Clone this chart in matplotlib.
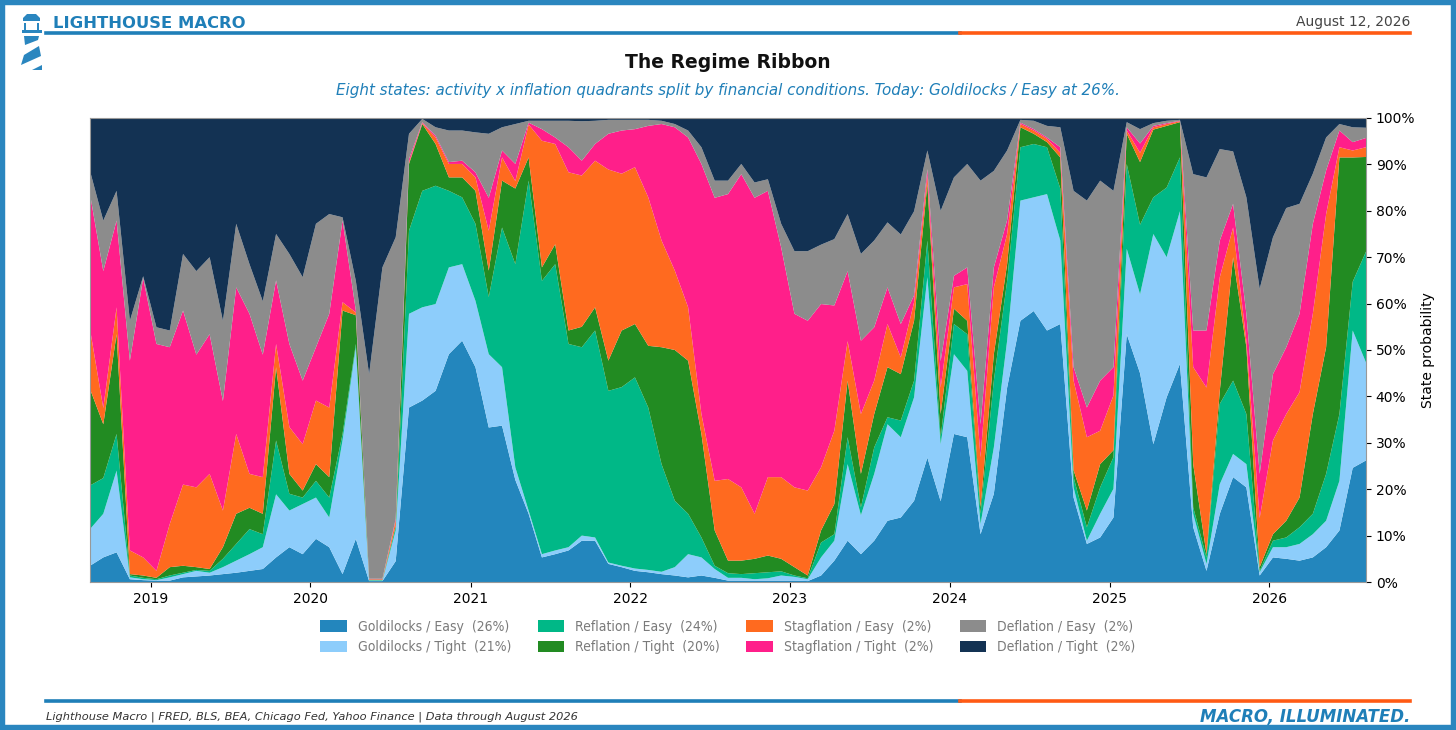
#%% libs
import matplotlib
matplotlib.use('Agg')
import matplotlib.pyplot as plt
import matplotlib.dates as mdates
from matplotlib.lines import Line2D
from matplotlib.patches import Polygon, Rectangle
from matplotlib.ticker import PercentFormatter
import numpy as np
import pandas as pd

#%% data: monthly state probabilities (%), Aug 2018 -> Aug 2026
dates = pd.date_range('2018-08-15', '2026-08-10', periods=97)

goldilocks_easy = [3.5, 5.3, 6.4, 0.6, 0.4, 0.3, 0.3, 1.0, 1.2, 1.4, 1.7, 2.0, 2.4, 2.8, 5.3, 7.5,
                   6.0, 9.3, 7.5, 1.7, 9.3, 0.2, 0.2, 4.5, 37.6, 39.1, 41.2, 49.1, 52.0, 46.3, 33.3, 33.7,
                   22.0, 14.7, 5.3, 6.0, 6.8, 8.9, 8.9, 3.9, 3.2, 2.4, 2.1, 1.7, 1.4, 1.0, 1.4, 0.9,
                   0.3, 0.3, 0.3, 0.3, 0.3, 0.3, 0.2, 1.4, 4.6, 8.9, 6.0, 8.9, 13.2, 13.9, 17.5, 26.8,
                   17.4, 31.9, 31.2, 10.3, 19.0, 41.9, 56.3, 58.4, 54.2, 55.6, 18.2, 8.2, 9.6, 13.9, 53.4, 45.0,
                   29.7, 39.8, 47.0, 11.8, 2.4, 14.7, 22.6, 20.4, 1.4, 5.3, 5.0, 4.6, 5.3, 7.5, 11.1, 24.6,
                   26.2]
goldilocks_tight = [7.9, 9.4, 17.6, 0.4, 0.2, 0.1, 0.7, 0.7, 1.2, 0.6, 1.5, 2.6, 3.6, 4.7, 13.6, 7.9,
                    10.8, 8.9, 6.4, 28.8, 41.3, 0.1, 0.1, 6.6, 20.2, 20.1, 18.7, 18.7, 16.5, 14.3, 15.8, 12.6,
                    2.7, 0.7, 0.7, 0.8, 0.7, 1.1, 0.7, 0.3, 0.3, 0.5, 0.5, 0.5, 1.8, 5.0, 3.9, 1.9,
                    0.6, 0.6, 0.3, 0.5, 1.1, 0.8, 0.4, 3.9, 4.3, 16.5, 8.4, 14.4, 20.8, 17.3, 22.3, 38.9,
                    12.3, 17.2, 14.3, 2.2, 10.0, 10.1, 25.9, 24.5, 29.4, 18.0, 2.2, 0.7, 5.1, 6.2, 18.4, 17.0,
                    45.3, 30.2, 32.9, 2.9, 1.5, 6.4, 5.0, 5.0, 0.7, 2.2, 2.5, 3.6, 5.0, 5.7, 10.7, 29.6,
                    21.1]
reflation_easy = [9.4, 7.7, 7.9, 0.4, 0.3, 0.2, 0.4, 0.3, 0.2, 0.4, 1.8, 3.6, 5.4, 2.8, 11.6, 3.6,
                  1.4, 3.6, 4.3, 1.4, 0.7, 0.1, 0.1, 0.7, 17.9, 25.1, 25.5, 16.5, 14.4, 16.6, 12.3, 30.1,
                  43.8, 71.1, 58.9, 61.7, 43.8, 40.6, 44.6, 37.0, 38.5, 41.2, 35.0, 23.2, 14.3, 8.7, 4.3, 0.7,
                  1.0, 0.8, 1.3, 1.3, 0.9, 0.3, 0.2, 3.2, 1.4, 5.8, 1.7, 5.7, 1.5, 3.6, 3.6, 7.9,
                  1.5, 6.5, 7.9, 2.2, 14.4, 12.9, 11.5, 11.5, 10.1, 11.2, 2.2, 2.9, 5.7, 6.8, 18.3, 15.0,
                  7.9, 15.0, 11.6, 1.4, 1.4, 17.3, 15.8, 10.8, 0.3, 1.4, 2.1, 3.6, 4.4, 10.1, 14.4, 10.5,
                  23.9]
reflation_tight = [20.8, 11.6, 21.5, 0.3, 0.5, 0.3, 1.8, 1.5, 0.6, 0.4, 2.5, 6.5, 4.6, 4.4, 15.8, 4.3,
                   1.5, 3.6, 4.4, 26.6, 6.2, 0.1, 0.1, 0.3, 14.4, 14.4, 9.0, 2.9, 4.3, 7.1, 5.7, 10.1,
                   16.3, 5.0, 2.9, 4.3, 2.9, 4.4, 5.0, 6.5, 12.2, 11.5, 13.3, 25.2, 32.5, 33.0, 22.3, 7.6,
                   2.7, 2.9, 3.1, 3.6, 2.7, 1.8, 0.6, 2.6, 6.5, 12.2, 7.2, 7.2, 10.8, 10.0, 12.9, 12.2,
                   5.0, 3.3, 2.9, 1.4, 5.7, 3.6, 4.3, 2.2, 1.1, 6.7, 1.5, 3.6, 5.0, 1.5, 6.5, 13.5,
                   14.6, 13.3, 7.6, 9.3, 0.7, 2.8, 26.6, 14.4, 0.8, 1.4, 3.6, 6.4, 21.5, 27.3, 55.3, 26.8,
                   20.4]
stagflation_easy = [12.9, 3.5, 5.8, 5.1, 3.9, 1.5, 9.3, 17.5, 17.2, 20.5, 7.9, 17.2, 7.3, 7.9, 5.0, 10.1,
                    10.0, 13.7, 15.0, 1.8, 0.6, 0.1, 0.1, 1.1, 0.4, 0.2, 1.4, 2.9, 2.9, 2.9, 8.6, 5.0,
                    1.6, 7.1, 27.3, 21.6, 34.1, 32.6, 31.6, 41.2, 33.8, 33.8, 32.0, 23.0, 17.1, 11.5, 4.3, 10.7,
                    17.6, 15.8, 9.7, 16.9, 17.6, 17.2, 18.3, 13.6, 15.8, 8.5, 12.9, 7.2, 9.3, 3.6, 4.0, 1.8,
                    5.7, 4.6, 7.9, 10.8, 14.4, 6.5, 0.7, 0.7, 0.7, 1.0, 19.3, 15.8, 7.2, 11.8, 0.7, 2.0,
                    0.5, 0.4, 0.2, 20.9, 35.9, 24.5, 6.4, 1.4, 10.6, 20.2, 23.0, 22.7, 21.6, 28.7, 2.2, 1.5,
                    2.1]
stagflation_tight = [29.1, 29.5, 18.7, 40.9, 60.2, 48.9, 38.1, 37.5, 28.6, 30.1, 23.6, 31.6, 34.5, 26.4, 13.7, 17.9,
                     13.7, 11.5, 20.2, 17.6, 0.4, 0.1, 0.1, 0.4, 0.7, 0.2, 0.4, 0.4, 0.7, 1.1, 7.1, 1.5,
                     3.7, 0.4, 2.5, 1.4, 5.4, 3.2, 3.6, 7.7, 9.3, 8.2, 15.4, 25.1, 30.9, 36.6, 53.9, 61.0,
                     61.4, 67.5, 68.1, 61.7, 49.5, 37.4, 36.6, 35.2, 27.0, 15.1, 15.8, 11.5, 7.9, 7.2, 1.5, 1.4,
                     5.7, 2.5, 3.6, 7.1, 4.3, 3.0, 0.3, 0.3, 0.3, 1.2, 2.9, 6.4, 10.8, 6.1, 0.7, 2.0,
                     0.3, 0.2, 0.1, 7.9, 12.3, 7.9, 5.1, 5.8, 9.5, 14.3, 14.4, 16.9, 19.4, 9.4, 3.6, 1.8,
                     2.0]
deflation_easy = [5.0, 10.9, 6.4, 8.6, 0.4, 3.6, 3.6, 12.2, 18.0, 16.6, 17.3, 13.7, 10.7, 11.5, 10.0, 19.4,
                  22.3, 26.6, 21.5, 0.7, 6.4, 44.1, 67.1, 60.7, 5.4, 0.7, 1.8, 6.8, 6.5, 8.6, 13.8, 5.0,
                  8.6, 0.4, 1.8, 3.6, 5.7, 8.5, 5.0, 3.0, 2.3, 2.0, 1.3, 0.7, 0.7, 1.5, 3.6, 3.7,
                  2.9, 2.2, 3.3, 2.5, 5.1, 13.5, 15.0, 12.8, 14.3, 12.3, 18.7, 18.7, 14.0, 19.3, 18.1, 4.0,
                  32.4, 21.2, 22.3, 52.5, 20.8, 15.0, 0.6, 1.8, 2.5, 4.3, 38.0, 44.6, 43.1, 38.0, 1.1, 3.1,
                  0.6, 0.5, 0.2, 33.7, 33.0, 19.7, 11.3, 25.1, 39.9, 29.5, 30.0, 23.7, 10.8, 7.1, 1.4, 3.2,
                  2.2]
deflation_tight = [11.4, 22.1, 15.7, 43.7, 34.1, 45.1, 45.8, 29.3, 33.0, 30.0, 43.7, 22.8, 31.5, 39.5, 25.0, 29.3,
                   34.3, 22.8, 20.7, 21.4, 35.1, 55.2, 32.2, 25.7, 3.4, 0.2, 2.0, 2.7, 2.7, 3.1, 3.4, 2.0,
                   1.3, 0.6, 0.6, 0.6, 0.6, 0.7, 0.6, 0.4, 0.4, 0.4, 0.4, 0.6, 1.3, 2.7, 6.3, 13.5,
                   13.5, 9.9, 13.9, 13.2, 22.8, 28.7, 28.7, 27.3, 26.1, 20.7, 29.3, 26.4, 22.5, 25.1, 20.1, 7.0,
                   20.0, 12.8, 9.9, 13.5, 11.4, 7.0, 0.4, 0.6, 1.7, 2.0, 15.7, 17.8, 13.5, 15.7, 0.9, 2.4,
                   1.1, 0.6, 0.4, 12.1, 12.8, 6.7, 7.2, 17.1, 36.8, 25.7, 19.4, 18.5, 12.0, 4.2, 1.3, 2.0,
                   2.1]

state_names = ['Goldilocks / Easy', 'Goldilocks / Tight', 'Reflation / Easy', 'Reflation / Tight',
               'Stagflation / Easy', 'Stagflation / Tight', 'Deflation / Easy', 'Deflation / Tight']
state_colors = ['#2386bd', '#8dcdfb', '#00b887', '#228b22',
                '#ff6a1f', '#ff1f8a', '#8c8c8c', '#133253']
series = [goldilocks_easy, goldilocks_tight, reflation_easy, reflation_tight,
          stagflation_easy, stagflation_tight, deflation_easy, deflation_tight]

BLUE = '#1f7fb8'
ORANGE = '#ff5a14'

#%% figure
W, H = 1456, 730
fig = plt.figure(figsize=(W / 100, H / 100), dpi=100)

def px(x, y):
    return (x / W, 1 - y / H)

# outer border
fig.patches.append(Rectangle((0, 0), 1, 1, transform=fig.transFigure, fill=False,
                             edgecolor='#2a86bf', linewidth=7.5))

# header / footer rules
for y in (33, 701):
    fig.add_artist(Line2D([46 / W, 960 / W], [1 - y / H] * 2, color=BLUE, lw=2.6))
    fig.add_artist(Line2D([960 / W, 1410 / W], [1 - y / H] * 2, color=ORANGE, lw=2.6))

# lighthouse icon
icon = [
    [(23, 21), (23, 18), (27, 14), (36, 14), (40, 18), (40, 21)],
    [(24, 23), (26, 23), (26, 30), (24, 30)],
    [(37, 23), (39, 23), (39, 30), (37, 30)],
    [(22, 30), (42, 30), (42, 33), (22, 33)],
    [(24, 36), (39, 36), (38, 40), (25, 45)],
    [(24, 55), (39, 46), (41, 56), (21, 65)],
    [(32, 70), (42, 65), (42, 70)],
]
for pts in icon:
    fig.patches.append(Polygon([px(*p) for p in pts], closed=True, transform=fig.transFigure,
                               facecolor='#2a86bf', edgecolor='none'))

fig.text(*px(53, 23), 'LIGHTHOUSE MACRO', color=BLUE, fontsize=11.8, fontweight='bold', va='center')
fig.text(*px(1410, 22), 'August 12, 2026', color='#444444', fontsize=10, ha='right', va='center')
fig.text(*px(728, 62), 'The Regime Ribbon', color='#111111', fontsize=13.5, fontweight='bold',
         ha='center', va='center')
fig.text(*px(728, 90), 'Eight states: activity x inflation quadrants split by financial conditions. '
         'Today: Goldilocks / Easy at %d%%.' % round(goldilocks_easy[-1]),
         color=BLUE, fontsize=10.9, style='italic', ha='center', va='center')
fig.text(*px(46, 717), 'Lighthouse Macro | FRED, BLS, BEA, Chicago Fed, Yahoo Finance | Data through August 2026',
         color='#333333', fontsize=8.2, style='italic', va='center')
fig.text(*px(1410, 717), 'MACRO, ILLUMINATED.', color=BLUE, fontsize=12, fontweight='bold',
         style='italic', ha='right', va='center')

#%% ribbon
ax = fig.add_axes([90 / W, 1 - 582 / H, (1366 - 90) / W, (582 - 118) / H])
labels = ['%s  (%d%%)' % (n, round(s[-1])) for n, s in zip(state_names, series)]
ax.stackplot(dates, *series, colors=state_colors, labels=labels, linewidth=0.3)
ax.set_xlim(dates[0], dates[-1])
ax.set_ylim(0, 100)
ax.yaxis.tick_right()
ax.yaxis.set_label_position('right')
ax.set_yticks(np.arange(0, 101, 10))
ax.yaxis.set_major_formatter(PercentFormatter(100, decimals=0))
ax.set_ylabel('State probability', fontsize=10)
ax.xaxis.set_major_locator(mdates.YearLocator())
ax.xaxis.set_major_formatter(mdates.DateFormatter('%Y'))
ax.tick_params(labelsize=10)
for sp in ax.spines.values():
    sp.set_color('#999999')
    sp.set_linewidth(0.8)

leg = ax.legend(loc='center', bbox_to_anchor=(0.5, (637 - 582) / -(582 - 118)), ncol=4,
                frameon=False, prop={'size': 10, 'stretch': 'condensed'},
                handlelength=1.9, handleheight=0.9, handletextpad=0.8,
                columnspacing=1.9, labelspacing=0.5)
for t in leg.get_texts():
    t.set_color('#7a7a7a')

plt.savefig('out.png', dpi=100)
